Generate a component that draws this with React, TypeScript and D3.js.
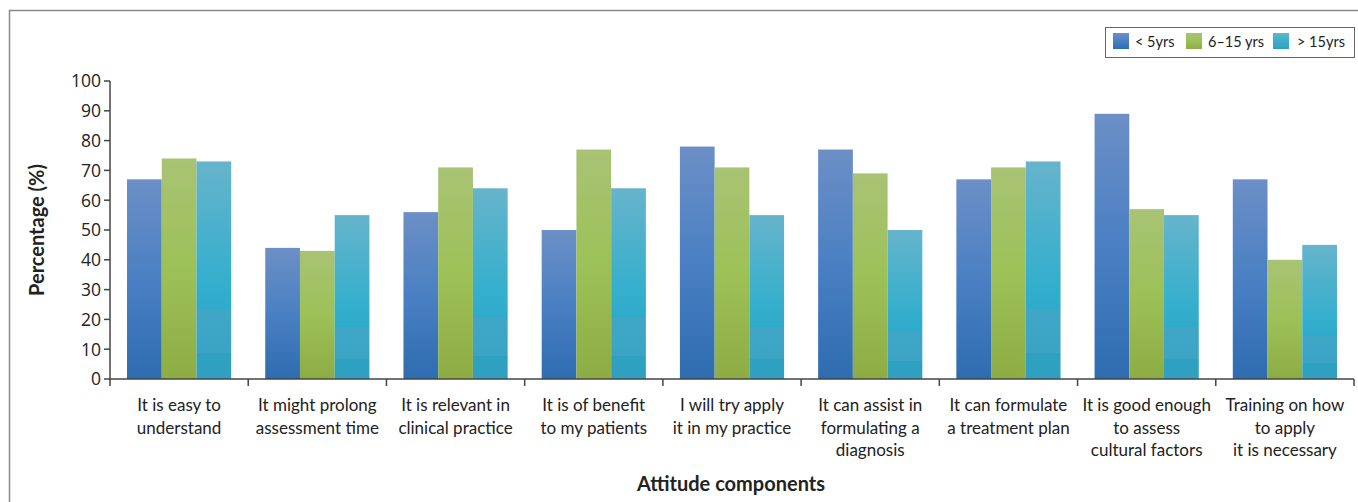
import React from "react";
import * as d3 from "d3";

const categories = [
  ["It is easy to", "understand"],
  ["It might prolong", "assessment time"],
  ["It is relevant in", "clinical practice"],
  ["It is of benefit", "to my patients"],
  ["I will try apply", "it in my practice"],
  ["It can assist in", "formulating a", "diagnosis"],
  ["It can formulate", "a treatment plan"],
  ["It is good enough", "to assess", "cultural factors"],
  ["Training on how", "to apply", "it is necessary"],
];
const seriesNames = ["< 5yrs", "6\u201315 yrs", "> 15yrs"];
const under5 = [67, 44, 56, 50, 78, 77, 67, 89, 67];
const six15 = [74, 43, 71, 77, 71, 69, 71, 57, 40];
const over15 = [73, 55, 64, 64, 55, 50, 73, 55, 45];
const yTicks = [0, 10, 20, 30, 40, 50, 60, 70, 80, 90, 100];

const series = [under5, six15, over15];
const gradIds = ["gBlue", "gGreen", "gCyan"];

export default function App() {
  const W = 1358, H = 502;
  const left = 110, right = 1354, top = 81, bottom = 379;
  const x = d3.scaleBand<number>().domain(d3.range(categories.length)).range([left, right]).paddingInner(0).paddingOuter(0);
  const y = d3.scaleLinear().domain([0, 100]).range([bottom, top]);
  const inner = d3.scaleBand<number>().domain([0, 1, 2]).range([0, x.bandwidth()]).paddingOuter(0.49).paddingInner(0);
  const tickFont = "'Open Sans', 'DejaVu Sans', sans-serif";
  const labelFont = "Lato, 'Open Sans', sans-serif";
  const axisColor = "#444";
  const legendX = 1105, legendY = 27;
  const legendItems = [
    { sq: 1113, tx: 1135 },
    { sq: 1186, tx: 1208 },
    { sq: 1273, tx: 1297 },
  ];
  return (
    <svg width={W} height={H} style={{ position: "absolute", left: 0, top: 0, display: "block" }}>
      <defs>
        <linearGradient id="gBlue" x1="0" y1="0" x2="0" y2="1">
          <stop offset="0" stopColor="#6c8fc6" />
          <stop offset="0.5" stopColor="#4a80c3" />
          <stop offset="1" stopColor="#2e6cb0" />
        </linearGradient>
        <linearGradient id="gGreen" x1="0" y1="0" x2="0" y2="1">
          <stop offset="0" stopColor="#a8c374" />
          <stop offset="0.5" stopColor="#9dc158" />
          <stop offset="1" stopColor="#8dac44" />
        </linearGradient>
        <linearGradient id="gCyan" x1="0" y1="0" x2="0" y2="1">
          <stop offset="0" stopColor="#67b4cc" />
          <stop offset="0.55" stopColor="#34afcd" />
          <stop offset="0.68" stopColor="#2faacb" />
          <stop offset="0.68" stopColor="#3fa6c6" />
          <stop offset="0.88" stopColor="#3ba4c4" />
          <stop offset="0.88" stopColor="#2ea1c1" />
          <stop offset="1" stopColor="#30a0bf" />
        </linearGradient>
      </defs>
      <rect x={9.5} y={10.5} width={W} height={H} fill="#fff" stroke="#888" strokeWidth={1.5} />
      {categories.map((_, i) => (
        <g key={i} transform={`translate(${x(i)},0)`}>
          {series.map((s, k) => (
            <rect key={k} x={inner(k)} y={y(s[i])} width={inner.bandwidth()} height={bottom - y(s[i])} fill={`url(#${gradIds[k]})`} />
          ))}
        </g>
      ))}
      <line x1={left} x2={left} y1={top} y2={bottom} stroke={axisColor} strokeWidth={1.5} />
      {yTicks.map((t) => (
        <g key={t}>
          <line x1={left - 6} x2={left} y1={y(t)} y2={y(t)} stroke={axisColor} strokeWidth={1.5} />
          <text x={left - 9} y={y(t)} dy="0.36em" textAnchor="end" fontFamily={tickFont} fontSize={17.5} fill="#222">{t}</text>
        </g>
      ))}
      <line x1={left} x2={right} y1={bottom} y2={bottom} stroke={axisColor} strokeWidth={1.5} />
      {d3.range(categories.length + 1).map((i) => {
        const xx = i < categories.length ? (x(i) as number) : right;
        return <line key={i} x1={xx} x2={xx} y1={bottom} y2={bottom + 7} stroke={axisColor} strokeWidth={1.5} />;
      })}
      {categories.map((lines, i) => (
        <text key={i} textAnchor="middle" fontFamily={labelFont} fontSize={17} fill="#222">
          {lines.map((l, j) => (
            <tspan key={j} x={(x(i) as number) + x.bandwidth() / 2} y={411 + j * 22.5}>{l}</tspan>
          ))}
        </text>
      ))}
      <text transform="translate(44,230) rotate(-90)" textAnchor="middle" fontFamily={labelFont} fontWeight="bold" fontSize={20} fill="#222">Percentage (%)</text>
      <text x={731} y={491} textAnchor="middle" fontFamily={labelFont} fontWeight="bold" fontSize={20} fill="#222">Attitude components</text>
      <rect x={legendX + 0.5} y={legendY + 0.5} width={249} height={30} fill="#fff" stroke="#666" strokeWidth={1} />
      {legendItems.map((it, k) => (
        <g key={k}>
          <rect x={it.sq} y={legendY + 6} width={16} height={16} fill={`url(#${gradIds[k]})`} />
          <text x={it.tx} y={legendY + 15} dy="0.35em" fontFamily={labelFont} fontSize={14.5} fill="#222">{seriesNames[k]}</text>
        </g>
      ))}
    </svg>
  );
}
